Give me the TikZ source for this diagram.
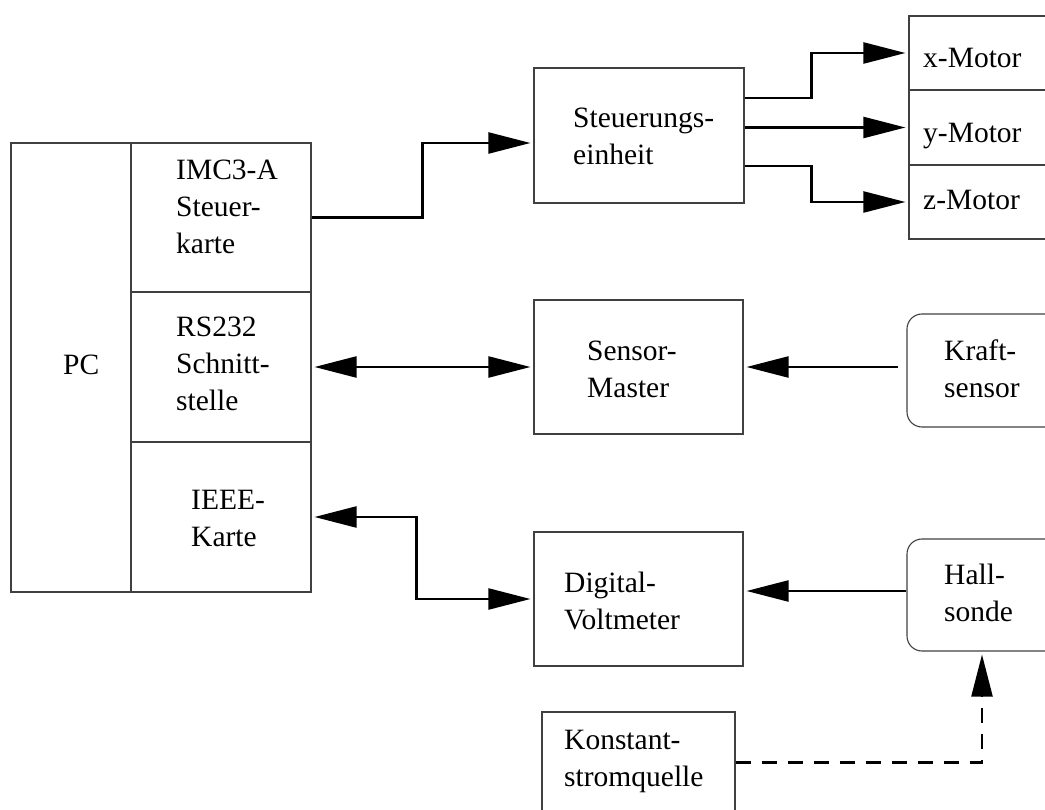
\documentclass[tikz,border=0pt]{standalone}
\usepackage{fontspec}
\setmainfont{Liberation Serif}
\usetikzlibrary{arrows.meta}
\newcommand{\mlines}[1]{\begin{tabular}[t]{@{}l@{}}#1\end{tabular}}
\tikzset{
  box/.style={draw=black!75, line width=1.1pt, rectangle, inner sep=0pt},
  rbox/.style={box, rounded corners=15pt},
  conn/.style={line width=2.3pt, shorten >=3pt, -{Triangle[length=42pt,width=21pt]}},
  dconn/.style={line width=2.3pt, shorten >=3pt, shorten <=3pt, {Triangle[length=42pt,width=21pt]}-{Triangle[length=42pt,width=21pt]}},
  dashconn/.style={conn, dash pattern=on 15pt off 11pt},
  lbl/.style={anchor=base west, inner sep=0pt, font=\fontsize{29.5}{37}\selectfont},
}
\begin{document}
\begin{tikzpicture}[x=1pt, y=-1pt]
\useasboundingbox (0,0) rectangle (1045,810);
\clip (0,0) rectangle (1045,810);
% PC
\node[box, minimum width=120, minimum height=449] (pcl) at (71,367.5) {};
\node[box, minimum width=180, minimum height=149] (imc) at (221,217.5) {};
\node[box, minimum width=180, minimum height=150] (rs) at (221,367) {};
\node[box, minimum width=180, minimum height=150] (ieee) at (221,517) {};
% middle column
\node[box, minimum width=210, minimum height=135] (steu) at (639,135.5) {};
\node[box, minimum width=209, minimum height=134] (sm) at (638.5,367) {};
\node[box, minimum width=209, minimum height=134] (dv) at (638.5,599) {};
\node[box, minimum width=193, minimum height=148] (ks) at (638.5,786) {};
% right column
\node[box, minimum width=191, minimum height=74] (xm) at (1004.5,53) {};
\node[box, minimum width=191, minimum height=75] (ym) at (1004.5,127.5) {};
\node[box, minimum width=191, minimum height=74] (zm) at (1004.5,202) {};
\node[rbox, minimum width=193, minimum height=113] (kraft) at (1003.5,370.5) {};
\node[rbox, minimum width=193, minimum height=112] (hall) at (1003.5,595) {};
% labels
\node[lbl] (tpc) at (63,375) {PC};
\node[lbl] (timc) at (176,180) {\mlines{IMC3-A\\Steuer-\\karte}};
\node[lbl] (trs) at (176,337) {\mlines{RS232\\Schnitt-\\stelle}};
\node[lbl] (tieee) at (191,509) {\mlines{IEEE-\\Karte}};
\node[lbl] (tsteu) at (573,128) {\mlines{Steuerungs-\\einheit}};
\node[lbl] (tsm) at (587,361) {\mlines{Sensor-\\Master}};
\node[lbl] (tdv) at (564,592) {\mlines{Digital-\\Voltmeter}};
\node[lbl] (tks) at (564,749) {\mlines{Konstant-\\stromquelle}};
\node[lbl] (txm) at (923,68) {x-Motor};
\node[lbl] (tym) at (923,143) {y-Motor};
\node[lbl] (tzm) at (923,210) {z-Motor};
\node[lbl] (tkraft) at (944,361) {\mlines{Kraft-\\sensor}};
\node[lbl] (thall) at (944,584) {\mlines{Hall-\\sonde}};
% connectors
\draw[conn] (imc.east) -- ++(111,0) |- ([yshift=-7.5pt]steu.west);
\draw[conn] ([yshift=37.5pt]steu.east) -- ++(67,0) |- (xm.west);
\draw[conn] (steu.east |- ym.west) -- (ym.west);
\draw[conn] ([yshift=-30.5pt]steu.east) -- ++(67,0) |- (zm.west);
\draw[dconn] (rs.east) -- (sm.west);
\draw[dconn] (ieee.east) -- ++(105,0) |- (dv.west);
\draw[conn] ([yshift=3.5pt,xshift=-8pt]kraft.west) coordinate (k1) -- (k1 -| sm.east);
\draw[conn] ([yshift=4pt]hall.west) coordinate (h1) -- (h1 -| dv.east);
\draw[dashconn] ([yshift=-51pt]ks.north east) -| ([xshift=-21.5pt]hall.south);
\end{tikzpicture}
\end{document}
